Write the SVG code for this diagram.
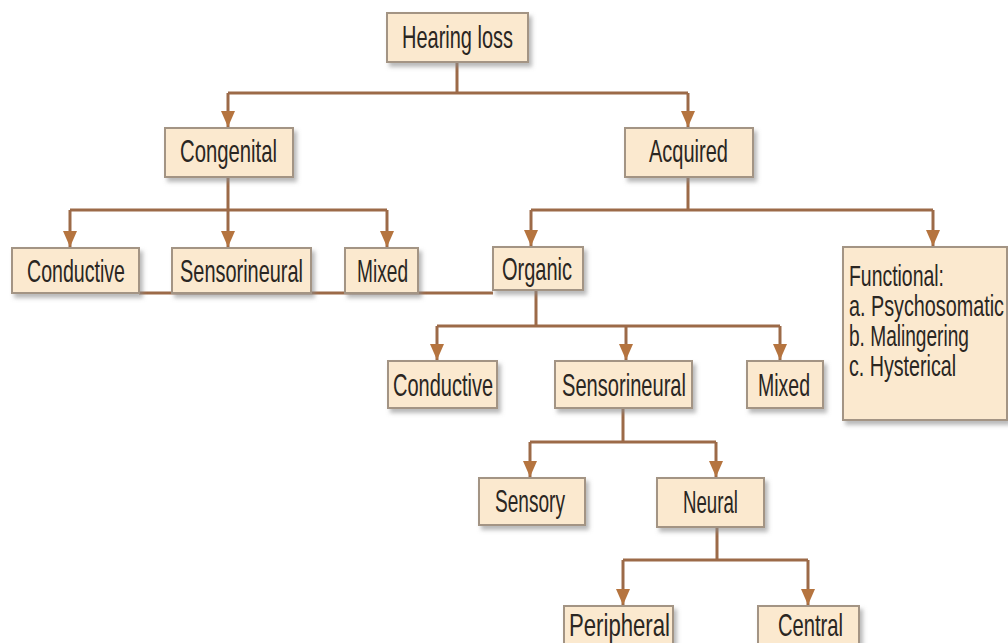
<svg xmlns="http://www.w3.org/2000/svg" width="1008" height="643" viewBox="0 0 1008 643">
<style>
.box{fill:#fbe9cf;stroke:#a39484;stroke-width:2;filter:url(#sh)}
.t{font-family:"Liberation Sans",Arial,sans-serif;font-size:32px;fill:#2a2622}
.f{font-size:28px}
.c{fill:none;stroke:#9c6a48;stroke-width:3}
</style>
<defs>
<filter id="sh" x="-10%" y="-10%" width="130%" height="140%">
<feDropShadow dx="3" dy="4" stdDeviation="2" flood-color="#8a8a8a" flood-opacity="0.6"/>
</filter>
<marker id="ar" markerUnits="userSpaceOnUse" markerWidth="16" markerHeight="14" refX="16" refY="7" orient="auto" viewBox="0 0 16 14">
<path d="M0,0 L16,7 L0,14 Z" fill="#b5743f"/>
</marker>
</defs>
<rect width="1008" height="643" fill="#ffffff"/>
<g id="connectors">
<path class="c" d="M457,62 V93 M228,93 H688"/>
<path class="c" d="M228,93 V127" marker-end="url(#ar)"/>
<path class="c" d="M688,93 V127" marker-end="url(#ar)"/>
<path class="c" d="M228,177 V210 M70,210 H387"/>
<path class="c" d="M70,210 V247" marker-end="url(#ar)"/>
<path class="c" d="M228,210 V247" marker-end="url(#ar)"/>
<path class="c" d="M387,210 V247" marker-end="url(#ar)"/>
<path class="c" d="M688,177 V210 M531,210 H933"/>
<path class="c" d="M531,210 V246" marker-end="url(#ar)"/>
<path class="c" d="M933,210 V246" marker-end="url(#ar)"/>
<path class="c" d="M139,293 H493"/>
<path class="c" d="M536,290 V326 M437,326 H780"/>
<path class="c" d="M437,326 V360" marker-end="url(#ar)"/>
<path class="c" d="M626,326 V360" marker-end="url(#ar)"/>
<path class="c" d="M780,326 V360" marker-end="url(#ar)"/>
<path class="c" d="M623,408 V442 M530,442 H716"/>
<path class="c" d="M530,442 V477" marker-end="url(#ar)"/>
<path class="c" d="M716,442 V477" marker-end="url(#ar)"/>
<path class="c" d="M717,527 V560 M623,560 H808"/>
<path class="c" d="M623,560 V605" marker-end="url(#ar)"/>
<path class="c" d="M808,560 V605" marker-end="url(#ar)"/>
</g>
<g id="hearing-loss"><rect class="box" x="387" y="13" width="141" height="49"/><text class="t" transform="translate(402,48) scale(0.62,1)" textLength="179" lengthAdjust="spacingAndGlyphs">Hearing loss</text></g>
<g id="congenital"><rect class="box" x="165" y="128" width="128" height="49"/><text class="t" transform="translate(180,162) scale(0.62,1)" textLength="156.5" lengthAdjust="spacingAndGlyphs">Congenital</text></g>
<g id="acquired"><rect class="box" x="625" y="128" width="128" height="49"/><text class="t" transform="translate(649,162) scale(0.62,1)" textLength="127.4" lengthAdjust="spacingAndGlyphs">Acquired</text></g>
<g id="cong-conductive"><rect class="box" x="12" y="248" width="127" height="45"/><text class="t" transform="translate(27,282) scale(0.62,1)" textLength="158" lengthAdjust="spacingAndGlyphs">Conductive</text></g>
<g id="cong-sensorineural"><rect class="box" x="172" y="248" width="139" height="45"/><text class="t" transform="translate(180,282) scale(0.62,1)" textLength="198.4" lengthAdjust="spacingAndGlyphs">Sensorineural</text></g>
<g id="cong-mixed"><rect class="box" x="345" y="248" width="73" height="45"/><text class="t" transform="translate(357,282) scale(0.62,1)" textLength="82.3" lengthAdjust="spacingAndGlyphs">Mixed</text></g>
<g id="organic"><rect class="box" x="493" y="247" width="90" height="43"/><text class="t" transform="translate(502,280) scale(0.62,1)" textLength="112.9" lengthAdjust="spacingAndGlyphs">Organic</text></g>
<g id="functional"><rect class="box" x="843" y="247" width="164" height="173"/>
<text class="t f" transform="translate(849,286) scale(0.62,1.08)" textLength="153.2" lengthAdjust="spacingAndGlyphs">Functional:</text>
<text class="t f" transform="translate(849,316) scale(0.62,1.08)" textLength="250" lengthAdjust="spacingAndGlyphs">a. Psychosomatic</text>
<text class="t f" transform="translate(849,346) scale(0.62,1.08)" textLength="193.5" lengthAdjust="spacingAndGlyphs">b. Malingering</text>
<text class="t f" transform="translate(849,376) scale(0.62,1.08)" textLength="172.6" lengthAdjust="spacingAndGlyphs">c. Hysterical</text></g>
<g id="org-conductive"><rect class="box" x="388" y="361" width="109" height="47"/><text class="t" transform="translate(393,396) scale(0.62,1)" textLength="161.3" lengthAdjust="spacingAndGlyphs">Conductive</text></g>
<g id="org-sensorineural"><rect class="box" x="555" y="361" width="137" height="47"/><text class="t" transform="translate(562,396) scale(0.62,1)" textLength="200" lengthAdjust="spacingAndGlyphs">Sensorineural</text></g>
<g id="org-mixed"><rect class="box" x="747" y="361" width="76" height="47"/><text class="t" transform="translate(758,396) scale(0.62,1)" textLength="83.9" lengthAdjust="spacingAndGlyphs">Mixed</text></g>
<g id="sensory"><rect class="box" x="479" y="478" width="106" height="47"/><text class="t" transform="translate(495,512) scale(0.62,1)" textLength="112.9" lengthAdjust="spacingAndGlyphs">Sensory</text></g>
<g id="neural"><rect class="box" x="657" y="478" width="107" height="49"/><text class="t" transform="translate(683,513) scale(0.62,1)" textLength="88.7" lengthAdjust="spacingAndGlyphs">Neural</text></g>
<g id="peripheral"><rect class="box" x="564" y="606" width="109" height="46"/><text class="t" transform="translate(569,636) scale(0.62,1)" textLength="162.9" lengthAdjust="spacingAndGlyphs">Peripheral</text></g>
<g id="central"><rect class="box" x="758" y="606" width="101" height="46"/><text class="t" transform="translate(778,636) scale(0.62,1)" textLength="104.8" lengthAdjust="spacingAndGlyphs">Central</text></g>
</svg>
